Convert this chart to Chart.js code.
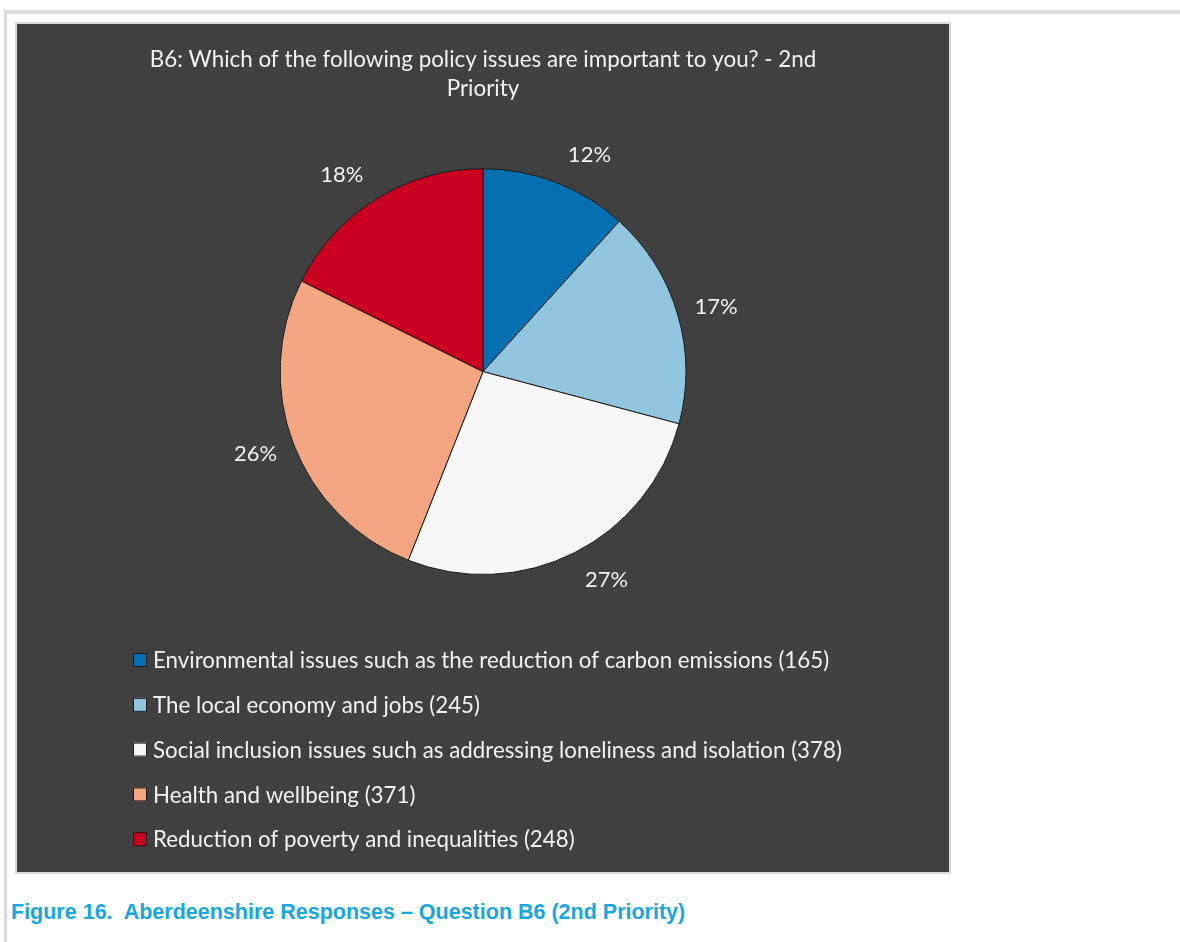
<!DOCTYPE html>
<html>
<head>
<meta charset="utf-8">
<title>B6 2nd Priority</title>
<script src="https://cdn.jsdelivr.net/npm/chart.js@4.4.1/dist/chart.umd.min.js"></script>
<style>
  html, body { margin: 0; padding: 0; background: #fff; }
  body { width: 1180px; height: 942px; position: relative; overflow: hidden; }
  .rule-top { position: absolute; left: 4px; top: 10px; width: 1176px; height: 4px; background: #d9dadc; }
  .rule-left { position: absolute; left: 4px; top: 10px; width: 3px; height: 932px; background: #d9dadc; }
  .box {
    position: absolute; left: 15px; top: 22px; width: 936px; height: 852px;
    box-sizing: border-box; border: 2px solid #dcdcdc; background: #404040;
  }
  .box canvas { display: block; }
  .caption {
    position: absolute; left: 11px; top: 900px;
    font: bold 21.5px "Liberation Sans", Arial, sans-serif; color: #17a6dd;
    white-space: pre;
  }
</style>
</head>
<body>
<div class="rule-top"></div>
<div class="rule-left"></div>
<div class="box"><canvas id="chart" width="932" height="848"></canvas></div>
<div class="caption">Figure 16.  Aberdeenshire Responses – Question B6 (2nd Priority)</div>
<script>
  const titleLines = ["B6: Which of the following policy issues are important to you? - 2nd", "Priority"];
  const categories = [
    "Environmental issues such as the reduction of carbon emissions",
    "The local economy and jobs",
    "Social inclusion issues such as addressing loneliness and isolation",
    "Health and wellbeing",
    "Reduction of poverty and inequalities"
  ];
  const responses = [165, 245, 378, 371, 248];
  const sliceColors = ["#0570b0", "#92c5de", "#f7f7f7", "#f4a582", "#ca0020"];

  const FONT = "Lato, 'Noto Sans', sans-serif";
  const TEXT = "#f2f2f2";

  // small angular nudges (degrees) so labels sit clear of neighbours
  const labelNudge = [5, 1, -4, 1, -4];

  // percentage labels just outside each slice
  const outsideLabels = {
    id: "outsideLabels",
    afterDatasetsDraw(chart) {
      const ctx = chart.ctx;
      const meta = chart.getDatasetMeta(0);
      const data = chart.data.datasets[0].data;
      const total = data.reduce((a, b) => a + b, 0);
      ctx.save();
      ctx.font = "22px " + FONT;
      ctx.fillStyle = TEXT;
      ctx.textAlign = "center";
      ctx.textBaseline = "middle";
      meta.data.forEach((arc, i) => {
        const p = arc.getProps(["x", "y", "startAngle", "endAngle", "outerRadius"], true);
        const mid = (p.startAngle + p.endAngle) / 2 + labelNudge[i] * Math.PI / 180;
        const r = p.outerRadius + 39;
        const pct = Math.round(data[i] / total * 100) + "%";
        ctx.fillText(pct, p.x + Math.cos(mid) * r, p.y + Math.sin(mid) * r);
      });
      ctx.restore();
    }
  };

  // one legend entry per row, left aligned
  const rowLegend = {
    id: "rowLegend",
    afterDraw(chart) {
      const ctx = chart.ctx;
      const ds = chart.data.datasets[0];
      const x0 = 116, y0 = 636, step = 44.8, box = 14;
      ctx.save();
      ctx.font = "22.3px " + FONT;
      ctx.textBaseline = "middle";
      chart.data.labels.forEach((label, i) => {
        const y = y0 + i * step;
        ctx.fillStyle = ds.backgroundColor[i];
        ctx.fillRect(x0, y - box / 2, box, box);
        ctx.strokeStyle = "#1a1a1a";
        ctx.lineWidth = 1;
        ctx.strokeRect(x0 + 0.5, y - box / 2 + 0.5, box - 1, box - 1);
        ctx.fillStyle = TEXT;
        ctx.fillText(label + " (" + ds.data[i] + ")", x0 + box + 6, y + 1);
      });
      ctx.restore();
    }
  };

  new Chart(document.getElementById("chart"), {
    type: "pie",
    data: {
      labels: categories,
      datasets: [{
        data: responses,
        backgroundColor: sliceColors,
        borderColor: "#1a1a1a",
        borderWidth: 1
      }]
    },
    options: {
      responsive: false,
      animation: false,
      layout: { padding: { top: 0, bottom: 297, left: 0, right: 0 } },
      plugins: {
        legend: { display: false },
        tooltip: { enabled: false },
        title: {
          display: true,
          text: titleLines,
          color: TEXT,
          font: { family: FONT, size: 22.4, weight: "normal", lineHeight: 1.3 },
          padding: { top: 21.5, bottom: 64.5 }
        }
      }
    },
    plugins: [outsideLabels, rowLegend]
  });
</script>
</body>
</html>
